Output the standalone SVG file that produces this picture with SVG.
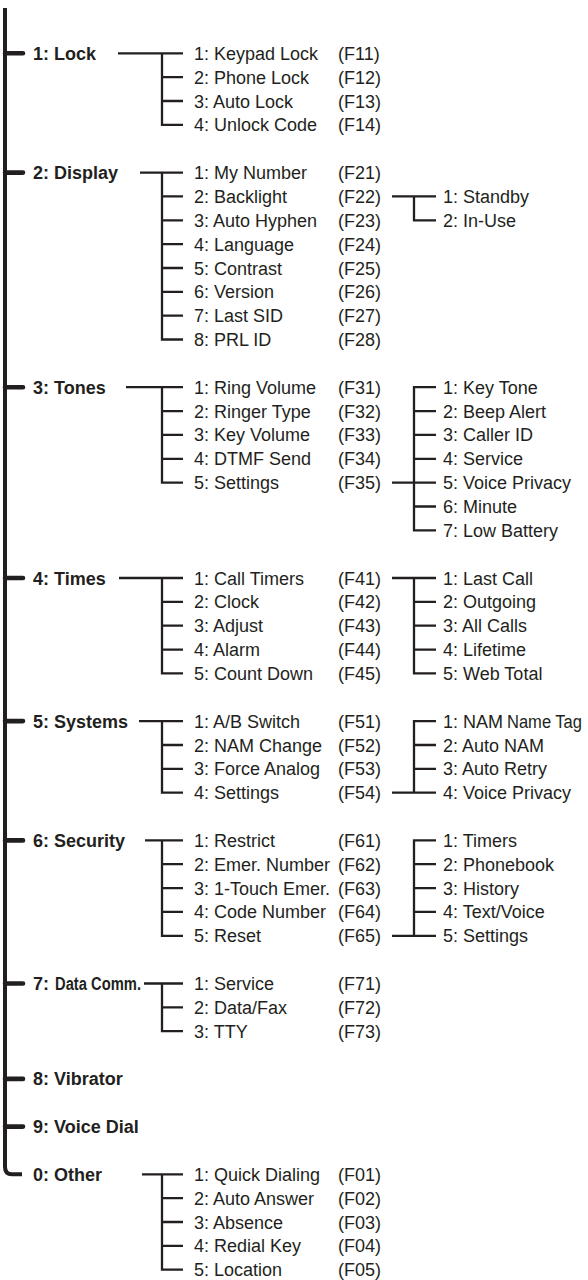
<svg xmlns="http://www.w3.org/2000/svg" width="588" height="1280" viewBox="0 0 588 1280">
<style>
.h{font-family:"Liberation Sans",Arial,sans-serif;font-weight:bold;font-size:18px;fill:#231f20}
.t{font-family:"Liberation Sans",Arial,sans-serif;font-size:18px;fill:#231f20}
.c{fill:none;stroke:#231f20;stroke-width:2.3}
.m{fill:none;stroke:#231f20;stroke-width:4}
.s{fill:none;stroke:#231f20;stroke-width:4.6;stroke-linecap:round}
</style>
<rect width="588" height="1280" fill="#fff"/>
<g id="connectors">
<path class="m" d="M5 8V1167Q5 1174.3 12 1174.3H22"/>
<path class="s" d="M5 53.3H23M5 172.6H23M5 387.2H23M5 578H23M5 721.1H23M5 840.4H23M5 983.5H23M5 1078.9H23M5 1126.6H23"/>
<path class="c" d="M118 53.3H183M162 53.3V124.9H183M162 77.2H183M162 101H183"/>
<path class="c" d="M140 172.6H183M162 172.6V339.5H183M162 196.4H183M162 220.3H183M162 244.1H183M162 268H183M162 291.8H183M162 315.7H183"/>
<path class="c" d="M392 196.4H436M414 196.4V220.3H436"/>
<path class="c" d="M126 387.2H183M162 387.2V482.6H183M162 411.1H183M162 434.9H183M162 458.8H183"/>
<path class="c" d="M436 387.2H414V530.3H436M414 411.1H436M414 434.9H436M414 458.8H436M414 506.5H436M392 482.6H436"/>
<path class="c" d="M119 578H183M162 578V673.4H183M162 601.9H183M162 625.7H183M162 649.6H183"/>
<path class="c" d="M392 578H436M414 578V673.4H436M414 601.9H436M414 625.7H436M414 649.6H436"/>
<path class="c" d="M139 721.1H183M162 721.1V792.7H183M162 745H183M162 768.8H183"/>
<path class="c" d="M436 721.1H414V792.7M392 792.7H436M414 745H436M414 768.8H436"/>
<path class="c" d="M145 840.4H183M162 840.4V935.8H183M162 864.2H183M162 888.1H183M162 911.9H183"/>
<path class="c" d="M436 840.4H414V935.8M392 935.8H436M414 864.2H436M414 888.1H436M414 911.9H436"/>
<path class="c" d="M144 983.5H183M162 983.5V1031.2H183M162 1007.3H183"/>
<path class="c" d="M142 1174.3H183M162 1174.3V1269.7H183M162 1198.1H183M162 1222H183M162 1245.8H183"/>
</g>
<g id="n1"><text class="h" x="33" y="59.8">1: Lock</text></g>
<g id="n1-1"><text class="t" x="194" y="59.8">1: Keypad Lock</text><text class="t" x="338" y="59.8">(F11)</text></g>
<g id="n1-2"><text class="t" x="194" y="83.7">2: Phone Lock</text><text class="t" x="338" y="83.7">(F12)</text></g>
<g id="n1-3"><text class="t" x="194" y="107.5">3: Auto Lock</text><text class="t" x="338" y="107.5">(F13)</text></g>
<g id="n1-4"><text class="t" x="194" y="131.4">4: Unlock Code</text><text class="t" x="338" y="131.4">(F14)</text></g>

<g id="n2"><text class="h" x="33" y="179.1">2: Display</text></g>
<g id="n2-1"><text class="t" x="194" y="179.1">1: My Number</text><text class="t" x="338" y="179.1">(F21)</text></g>
<g id="n2-2"><text class="t" x="194" y="202.9">2: Backlight</text><text class="t" x="338" y="202.9">(F22)</text></g>
<g id="n2-3"><text class="t" x="194" y="226.8">3: Auto Hyphen</text><text class="t" x="338" y="226.8">(F23)</text></g>
<g id="n2-4"><text class="t" x="194" y="250.6">4: Language</text><text class="t" x="338" y="250.6">(F24)</text></g>
<g id="n2-5"><text class="t" x="194" y="274.5">5: Contrast</text><text class="t" x="338" y="274.5">(F25)</text></g>
<g id="n2-6"><text class="t" x="194" y="298.3">6: Version</text><text class="t" x="338" y="298.3">(F26)</text></g>
<g id="n2-7"><text class="t" x="194" y="322.2">7: Last SID</text><text class="t" x="338" y="322.2">(F27)</text></g>
<g id="n2-8"><text class="t" x="194" y="346">8: PRL ID</text><text class="t" x="338" y="346">(F28)</text></g>
<g id="n2-2-1"><text class="t" x="443" y="202.9">1: Standby</text></g>
<g id="n2-2-2"><text class="t" x="443" y="226.8">2: In-Use</text></g>

<g id="n3"><text class="h" x="33" y="393.7">3: Tones</text></g>
<g id="n3-1"><text class="t" x="194" y="393.7">1: Ring Volume</text><text class="t" x="338" y="393.7">(F31)</text></g>
<g id="n3-2"><text class="t" x="194" y="417.6">2: Ringer Type</text><text class="t" x="338" y="417.6">(F32)</text></g>
<g id="n3-3"><text class="t" x="194" y="441.4">3: Key Volume</text><text class="t" x="338" y="441.4">(F33)</text></g>
<g id="n3-4"><text class="t" x="194" y="465.3">4: DTMF Send</text><text class="t" x="338" y="465.3">(F34)</text></g>
<g id="n3-5"><text class="t" x="194" y="489.1">5: Settings</text><text class="t" x="338" y="489.1">(F35)</text></g>
<g id="n3-5-1"><text class="t" x="443" y="393.7">1: Key Tone</text></g>
<g id="n3-5-2"><text class="t" x="443" y="417.6">2: Beep Alert</text></g>
<g id="n3-5-3"><text class="t" x="443" y="441.4">3: Caller ID</text></g>
<g id="n3-5-4"><text class="t" x="443" y="465.3">4: Service</text></g>
<g id="n3-5-5"><text class="t" x="443" y="489.1">5: Voice Privacy</text></g>
<g id="n3-5-6"><text class="t" x="443" y="513">6: Minute</text></g>
<g id="n3-5-7"><text class="t" x="443" y="536.8">7: Low Battery</text></g>

<g id="n4"><text class="h" x="33" y="584.5">4: Times</text></g>
<g id="n4-1"><text class="t" x="194" y="584.5">1: Call Timers</text><text class="t" x="338" y="584.5">(F41)</text></g>
<g id="n4-2"><text class="t" x="194" y="608.4">2: Clock</text><text class="t" x="338" y="608.4">(F42)</text></g>
<g id="n4-3"><text class="t" x="194" y="632.2">3: Adjust</text><text class="t" x="338" y="632.2">(F43)</text></g>
<g id="n4-4"><text class="t" x="194" y="656.1">4: Alarm</text><text class="t" x="338" y="656.1">(F44)</text></g>
<g id="n4-5"><text class="t" x="194" y="679.9">5: Count Down</text><text class="t" x="338" y="679.9">(F45)</text></g>
<g id="n4-1-1"><text class="t" x="443" y="584.5">1: Last Call</text></g>
<g id="n4-1-2"><text class="t" x="443" y="608.4">2: Outgoing</text></g>
<g id="n4-1-3"><text class="t" x="443" y="632.2">3: All Calls</text></g>
<g id="n4-1-4"><text class="t" x="443" y="656.1">4: Lifetime</text></g>
<g id="n4-1-5"><text class="t" x="443" y="679.9">5: Web Total</text></g>

<g id="n5"><text class="h" x="33" y="727.6">5: Systems</text></g>
<g id="n5-1"><text class="t" x="194" y="727.6">1: A/B Switch</text><text class="t" x="338" y="727.6">(F51)</text></g>
<g id="n5-2"><text class="t" x="194" y="751.5">2: NAM Change</text><text class="t" x="338" y="751.5">(F52)</text></g>
<g id="n5-3"><text class="t" x="194" y="775.3">3: Force Analog</text><text class="t" x="338" y="775.3">(F53)</text></g>
<g id="n5-4"><text class="t" x="194" y="799.2">4: Settings</text><text class="t" x="338" y="799.2">(F54)</text></g>
<g id="n5-4-1"><text class="t" x="443" y="727.6">1: NAM</text><text class="t" x="507" y="727.6" textLength="75" lengthAdjust="spacingAndGlyphs">Name Tag</text></g>
<g id="n5-4-2"><text class="t" x="443" y="751.5">2: Auto NAM</text></g>
<g id="n5-4-3"><text class="t" x="443" y="775.3">3: Auto Retry</text></g>
<g id="n5-4-4"><text class="t" x="443" y="799.2">4: Voice Privacy</text></g>

<g id="n6"><text class="h" x="33" y="846.9">6: Security</text></g>
<g id="n6-1"><text class="t" x="194" y="846.9">1: Restrict</text><text class="t" x="338" y="846.9">(F61)</text></g>
<g id="n6-2"><text class="t" x="194" y="870.7">2: Emer. Number</text><text class="t" x="338" y="870.7">(F62)</text></g>
<g id="n6-3"><text class="t" x="194" y="894.6">3: 1-Touch Emer.</text><text class="t" x="338" y="894.6">(F63)</text></g>
<g id="n6-4"><text class="t" x="194" y="918.4">4: Code Number</text><text class="t" x="338" y="918.4">(F64)</text></g>
<g id="n6-5"><text class="t" x="194" y="942.3">5: Reset</text><text class="t" x="338" y="942.3">(F65)</text></g>
<g id="n6-5-1"><text class="t" x="443" y="846.9">1: Timers</text></g>
<g id="n6-5-2"><text class="t" x="443" y="870.7">2: Phonebook</text></g>
<g id="n6-5-3"><text class="t" x="443" y="894.6">3: History</text></g>
<g id="n6-5-4"><text class="t" x="443" y="918.4">4: Text/Voice</text></g>
<g id="n6-5-5"><text class="t" x="443" y="942.3">5: Settings</text></g>

<g id="n7"><text class="h" x="33" y="990">7:</text><text class="h" x="55" y="990" font-size="17" textLength="86" lengthAdjust="spacingAndGlyphs">Data Comm.</text></g>
<g id="n7-1"><text class="t" x="194" y="990">1: Service</text><text class="t" x="338" y="990">(F71)</text></g>
<g id="n7-2"><text class="t" x="194" y="1013.8">2: Data/Fax</text><text class="t" x="338" y="1013.8">(F72)</text></g>
<g id="n7-3"><text class="t" x="194" y="1037.7">3: TTY</text><text class="t" x="338" y="1037.7">(F73)</text></g>

<g id="n8"><text class="h" x="33" y="1085.4">8: Vibrator</text></g>
<g id="n9"><text class="h" x="33" y="1133.1">9: Voice Dial</text></g>

<g id="n0"><text class="h" x="33" y="1180.8">0: Other</text></g>
<g id="n0-1"><text class="t" x="194" y="1180.8">1: Quick Dialing</text><text class="t" x="338" y="1180.8">(F01)</text></g>
<g id="n0-2"><text class="t" x="194" y="1204.6">2: Auto Answer</text><text class="t" x="338" y="1204.6">(F02)</text></g>
<g id="n0-3"><text class="t" x="194" y="1228.5">3: Absence</text><text class="t" x="338" y="1228.5">(F03)</text></g>
<g id="n0-4"><text class="t" x="194" y="1252.3">4: Redial Key</text><text class="t" x="338" y="1252.3">(F04)</text></g>
<g id="n0-5"><text class="t" x="194" y="1276.2">5: Location</text><text class="t" x="338" y="1276.2">(F05)</text></g>
</svg>
